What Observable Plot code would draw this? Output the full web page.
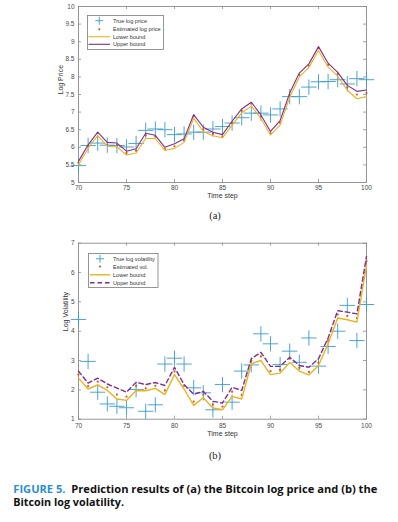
<!DOCTYPE html>
<html>
<head>
<meta charset="utf-8">
<script src="https://cdn.jsdelivr.net/npm/d3@7"></script>
<script src="https://cdn.jsdelivr.net/npm/@observablehq/plot@0.6"></script>
<style>
  html, body { margin: 0; padding: 0; background: #fff; }
  #root { position: relative; width: 398px; height: 522px; overflow: hidden; background: #fff; }
  #root > * { position: absolute; }
</style>
</head>
<body>
<div id="root"></div>
<script>
// ---------- data ----------
const steps = [70,71,72,73,74,75,76,77,78,79,80,81,82,83,84,85,86,87,88,89,90,91,92,93,94,95,96,97,98,99,100];
const xTicks = [70,75,80,85,90,95,100];

// (a) log price
const priceTicks = [5,5.5,6,6.5,7,7.5,8,8.5,9,9.5,10];
const priceTrue  = [5.48,6.05,6.12,6.06,6.05,6.01,6.11,6.48,6.52,6.50,6.36,6.38,6.43,6.43,6.52,6.59,6.69,6.84,6.97,6.97,6.92,7.09,7.44,7.44,7.71,7.86,7.87,7.92,7.80,7.95,7.92];
const priceEst   = [5.56,6.04,6.40,6.08,6.06,5.84,5.90,6.34,6.30,5.95,6.03,6.19,6.88,6.51,6.38,6.31,6.69,7.04,7.24,6.87,6.40,6.70,7.48,8.06,8.32,8.82,8.34,8.08,7.70,7.50,7.54];
const priceLower = [5.50,5.98,6.33,6.03,6.01,5.78,5.84,6.25,6.25,5.91,5.97,6.14,6.82,6.45,6.33,6.27,6.63,6.98,7.17,6.82,6.35,6.63,7.42,8.00,8.27,8.75,8.28,8.02,7.62,7.38,7.44];
const priceUpper = [5.60,6.07,6.43,6.14,6.12,5.89,5.96,6.40,6.34,6.00,6.10,6.24,6.93,6.57,6.43,6.36,6.74,7.09,7.28,6.92,6.45,6.76,7.54,8.11,8.37,8.86,8.39,8.13,7.76,7.59,7.63];

// (b) log volatility
const volTicks = [1,2,3,4,5,6,7];
const volTrue  = [4.40,2.97,1.92,1.52,1.44,1.39,2.01,1.27,1.49,2.88,3.08,2.88,2.07,1.90,1.32,2.18,1.58,2.64,2.85,3.91,3.57,2.86,3.32,2.94,3.77,2.81,3.48,4.00,4.88,3.68,4.91];
const volEst   = [2.52,2.13,2.28,2.09,1.84,1.77,2.13,2.05,2.14,1.98,2.63,2.14,1.60,1.84,1.50,1.43,1.94,1.83,3.00,3.14,2.64,2.68,3.06,2.75,2.61,2.92,3.68,4.57,4.52,4.45,6.39];
const volLower = [2.40,2.03,2.17,1.98,1.69,1.64,1.98,1.97,2.05,1.84,2.52,2.03,1.47,1.73,1.38,1.32,1.78,1.69,2.89,3.00,2.52,2.57,2.93,2.64,2.51,2.83,3.57,4.45,4.39,4.31,6.24];
const volUpper = [2.64,2.23,2.40,2.20,2.06,1.92,2.26,2.18,2.25,2.15,2.77,2.18,1.85,1.95,1.61,1.55,2.09,1.98,3.06,3.28,2.80,2.80,3.11,2.83,2.77,3.06,3.77,4.70,4.65,4.59,6.55];

const legendA = ["True log price", "Estimated log price", "Lower bound", "Upper bound"];
const legendB = ["True log volatility", "Estimated vol.", "Lower bound", "Upper bound"];

// ---------- styles ----------
const C = { blue: "#3a9bc9", red: "#d95319", yellow: "#edb120", purple: "#7e2f8e", axis: "#8a8a8a", text: "#4a4a4a" };
const FONT = "'Liberation Sans', Arial, sans-serif";
const W = 398, ML = 78, MR = 32;

function table(t, e, lo, up) {
  return steps.map((s, i) => ({ t: s, truth: t[i], est: e[i], lower: lo[i], upper: up[i] }));
}

function chart({ height, mt, mb, yDomain, yTicks, yLabel, labelDx, rows, dashed, padX, timeDy, lineW }) {
  const fh = height - mt - mb, fw = W - ML - MR;
  return Plot.plot({
    width: W, height, marginTop: mt, marginBottom: mb, marginLeft: ML, marginRight: MR,
    x: { domain: [70, 100] },
    y: { domain: yDomain },
    style: { fontFamily: FONT, background: "transparent", overflow: "visible" },
    marks: [
      Plot.frame({ stroke: C.axis, strokeWidth: 0.9 }),
      Plot.tickX(xTicks, { x: d => d, insetTop: fh - 3, stroke: C.axis, strokeWidth: 0.8 }),
      Plot.tickX(xTicks, { x: d => d, insetBottom: fh - 3, stroke: C.axis, strokeWidth: 0.8 }),
      Plot.tickY(yTicks, { y: d => d, insetRight: fw - 3, stroke: C.axis, strokeWidth: 0.8 }),
      Plot.tickY(yTicks, { y: d => d, insetLeft: fw - 3, stroke: C.axis, strokeWidth: 0.8 }),
      Plot.axisX({ ticks: xTicks, tickSize: 0, tickPadding: padX, fontSize: 6.5, fill: C.text, label: null }),
      Plot.axisY({ ticks: yTicks, tickSize: 0, tickPadding: 4, fontSize: 6.5, fill: C.text, label: null, tickFormat: d => String(d) }),
      Plot.dot(rows, { x: "t", y: "truth", symbol: "plus", r: 5, stroke: C.blue, strokeWidth: 0.9 }),
      Plot.dot(rows, { x: "t", y: "est", r: 1.1, fill: C.red, stroke: "none" }),
      Plot.line(rows, { x: "t", y: "lower", stroke: C.yellow, strokeWidth: lineW }),
      Plot.line(rows, { x: "t", y: "upper", stroke: C.purple, strokeWidth: lineW, strokeDasharray: dashed ? "4.5,3" : null }),
      Plot.text(["Time step"], { frameAnchor: "bottom", dy: timeDy, fontSize: 7, fill: "#333" }),
      Plot.text([yLabel], { frameAnchor: "left", rotate: -90, dx: labelDx, fontSize: 7, fill: "#333" })
    ]
  });
}

const root = document.getElementById("root");

const svgA = chart({ height: 202, mt: 6, mb: 20, yDomain: [5, 10], yTicks: priceTicks, yLabel: "Log Price", labelDx: -18,
  rows: table(priceTrue, priceEst, priceLower, priceUpper), dashed: false, padX: 2.5, timeDy: 15, lineW: 1.1 });
svgA.style.left = "0px"; svgA.style.top = "0px";
root.appendChild(svgA);

const svgB = chart({ height: 204, mt: 6.7, mb: 21.3, yDomain: [1, 7], yTicks: volTicks, yLabel: "Log Volatility", labelDx: -12.5,
  rows: table(volTrue, volEst, volLower, volUpper), dashed: true, padX: 4, timeDy: 17, lineW: 1.4 });
svgB.style.left = "0px"; svgB.style.top = "236px";
root.appendChild(svgB);

// ---------- legends (HTML overlays) ----------
const NS = "http://www.w3.org/2000/svg";
function el(tag, attrs, parent) {
  const e = document.createElementNS(NS, tag);
  for (const k in attrs) e.setAttribute(k, attrs[k]);
  if (parent) parent.appendChild(e);
  return e;
}
function legend({ left, top, w, h, labels, rowY, x0, x1, tx, dashed, lineW }) {
  const s = el("svg", { width: w, height: h, viewBox: `0 0 ${w} ${h}` });
  s.style.left = left + "px"; s.style.top = top + "px"; s.style.position = "absolute";
  el("rect", { x: 0.5, y: 0.5, width: w - 1, height: h - 1, fill: "#fff", stroke: "#8a8a8a", "stroke-width": 0.9 }, s);
  const cx = (x0 + x1) / 2;
  el("path", { d: `M${cx - 4},${rowY[0]}h8M${cx},${rowY[0] - 4}v8`, stroke: C.blue, "stroke-width": 0.9, fill: "none" }, s);
  el("circle", { cx, cy: rowY[1], r: 1.1, fill: C.red }, s);
  el("line", { x1: x0, x2: x1, y1: rowY[2], y2: rowY[2], stroke: C.yellow, "stroke-width": lineW }, s);
  const up = el("line", { x1: x0, x2: x1, y1: rowY[3], y2: rowY[3], stroke: C.purple, "stroke-width": lineW }, s);
  if (dashed) up.setAttribute("stroke-dasharray", "4.5,3");
  labels.forEach((t, i) => {
    const tt = el("text", { x: tx, y: rowY[i], "dominant-baseline": "central", "font-size": 5.6, "font-family": FONT, fill: "#333" }, s);
    tt.textContent = t;
  });
  root.appendChild(s);
}
legend({ left: 87, top: 15, w: 77, h: 35, labels: legendA, rowY: [5.7, 14.3, 21.7, 29.3], x0: 1.5, x1: 23, tx: 26, dashed: false, lineW: 1.1 });
legend({ left: 88, top: 252.5, w: 70.5, h: 35, labels: legendB, rowY: [5.8, 13.5, 21.8, 29.8], x0: 2, x1: 22, tx: 25, dashed: true, lineW: 1.4 });

// ---------- sub-labels and caption ----------
const cap = el("svg", { width: W, height: 522 });
cap.style.left = "0px"; cap.style.top = "0px"; cap.style.pointerEvents = "none";
const subA = el("text", { x: 215, y: 215, "text-anchor": "middle", "dominant-baseline": "central", "font-size": 10.5, "font-family": "'Liberation Serif', serif", fill: "#222" }, cap);
subA.textContent = "(a)";
const subB = el("text", { x: 215, y: 455, "text-anchor": "middle", "dominant-baseline": "central", "font-size": 10.5, "font-family": "'Liberation Serif', serif", fill: "#222" }, cap);
subB.textContent = "(b)";
const l1 = el("text", { x: 13.3, y: 488, "dominant-baseline": "central", "font-size": 11, "font-weight": "bold", "font-family": "'Open Sans', sans-serif", fill: "#111", textLength: 364, lengthAdjust: "spacingAndGlyphs" }, cap);
const t1 = el("tspan", { fill: "#2a8fd1" }, l1); t1.textContent = "FIGURE 5.";
const t2 = el("tspan", {}, l1); t2.textContent = "\u00a0 Prediction results of (a) the Bitcoin log price and (b) the";
const l2 = el("text", { x: 13.3, y: 501.7, "dominant-baseline": "central", "font-size": 11, "font-weight": "bold", "font-family": "'Open Sans', sans-serif", fill: "#111", textLength: 110.7, lengthAdjust: "spacingAndGlyphs" }, cap);
l2.textContent = "Bitcoin log volatility.";
root.appendChild(cap);
</script>
</body>
</html>
